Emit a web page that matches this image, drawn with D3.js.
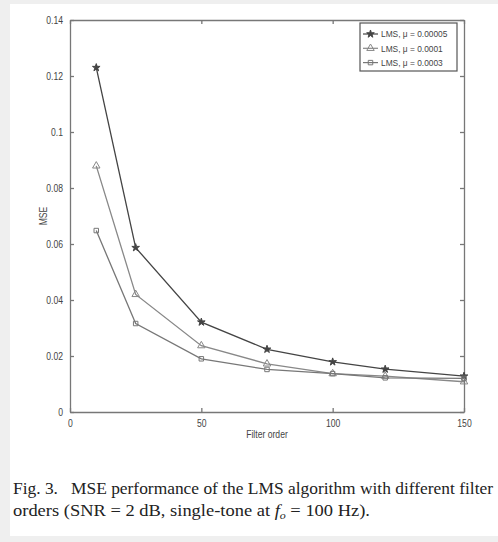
<!DOCTYPE html>
<html>
<head>
<meta charset="utf-8">
<script src="https://cdn.jsdelivr.net/npm/d3@7"></script>
<style>
  html, body { margin: 0; padding: 0; background: #efefef; }
  svg { display: block; }
</style>
</head>
<body>
<svg id="chart"></svg>
<script>
// Filter orders on the x axis
const filterOrders = [10, 25, 50, 75, 100, 120, 150];

// MSE values
const mseMu00005 = [0.123, 0.0587, 0.0321, 0.0224, 0.0179, 0.0153, 0.0128];
const mseMu0001  = [0.0879, 0.0420, 0.0237, 0.0172, 0.0137, 0.0128, 0.0108];
const mseMu0003  = [0.0648, 0.0316, 0.0190, 0.0152, 0.0137, 0.0122, 0.0120];

const seriesLabels = ['LMS, \u03bc = 0.00005', 'LMS, \u03bc = 0.0001', 'LMS, \u03bc = 0.0003'];

// Axis ticks
const xTicks = [0, 50, 100, 150];
const yTicks = [0, 0.02, 0.04, 0.06, 0.08, 0.1, 0.12, 0.14];

const W = 498, H = 542;
const margin = { top: 20, right: 34, bottom: 130, left: 70 };
const width = W - margin.left - margin.right;
const height = H - margin.top - margin.bottom;

const svg = d3.select('#chart')
  .attr('width', W)
  .attr('height', H);

// Paper background (page scan has a grey edge on top/left)
svg.append('rect')
  .attr('x', 10).attr('y', 4)
  .attr('width', W - 10).attr('height', H - 10)
  .attr('fill', '#fff');

const g = svg.append('g')
  .attr('transform', `translate(${margin.left},${margin.top})`);

const x = d3.scaleLinear().domain([0, 150]).range([0, width]);
const y = d3.scaleLinear().domain([0, 0.14]).range([height, 0]);

const axisColor = '#777';
const textColor = '#444';
const tickFont = '"Liberation Sans", Arial, sans-serif';

// the figure uses a narrow helvetica, squeeze the glyphs a bit
function narrow(sel, k = 0.86) {
  sel.each(function() {
    const len = this.getComputedTextLength();
    d3.select(this)
      .attr('textLength', len * k)
      .attr('lengthAdjust', 'spacingAndGlyphs');
  });
}

// Axes with inward ticks (matlab style box)
const styleAxis = sel => {
  sel.select('.domain').attr('stroke', axisColor).attr('stroke-width', 1.3);
  sel.selectAll('.tick line').attr('stroke', axisColor).attr('stroke-width', 1.3);
  sel.selectAll('.tick text')
    .attr('fill', textColor)
    .style('font-family', tickFont)
    .style('font-size', '10px')
    .call(narrow);
};

g.append('g')
  .attr('transform', `translate(0,${height})`)
  .call(d3.axisBottom(x).tickValues(xTicks).tickSizeInner(-4).tickSizeOuter(0).tickPadding(8))
  .call(styleAxis);

g.append('g')
  .call(d3.axisTop(x).tickValues(xTicks).tickSizeInner(-4).tickSizeOuter(0).tickFormat(''))
  .call(styleAxis);

g.append('g')
  .call(d3.axisLeft(y).tickValues(yTicks).tickSizeInner(-4).tickSizeOuter(0).tickPadding(7)
    .tickFormat(d3.format('~g')))
  .call(styleAxis);

g.append('g')
  .attr('transform', `translate(${width},0)`)
  .call(d3.axisRight(y).tickValues(yTicks).tickSizeInner(-4).tickSizeOuter(0).tickFormat(''))
  .call(styleAxis);

// Axis labels
g.append('text')
  .attr('x', width / 2)
  .attr('y', height + 26)
  .attr('text-anchor', 'middle')
  .attr('fill', textColor)
  .style('font-family', tickFont)
  .style('font-size', '10px')
  .text('Filter order')
  .call(narrow);

g.append('text')
  .attr('transform', 'rotate(-90)')
  .attr('x', -height / 2)
  .attr('y', -23)
  .attr('text-anchor', 'middle')
  .attr('fill', textColor)
  .style('font-family', tickFont)
  .style('font-size', '10px')
  .text('MSE')
  .call(narrow);

// Series
const series = [
  { label: seriesLabels[0], values: mseMu00005, symbol: d3.symbolStar, size: 18, color: '#444', fill: '#444' },
  { label: seriesLabels[1], values: mseMu0001, symbol: d3.symbolTriangle, size: 24, color: '#888', fill: 'none' },
  { label: seriesLabels[2], values: mseMu0003, symbol: d3.symbolSquare, size: 20, color: '#777', fill: 'none' }
];

const line = d3.line()
  .x(d => x(d[0]))
  .y(d => y(d[1]));

series.forEach(s => {
  const pts = filterOrders.map((f, i) => [f, s.values[i]]);
  g.append('path')
    .datum(pts)
    .attr('fill', 'none')
    .attr('stroke', s.color)
    .attr('stroke-width', 1.3)
    .attr('d', line);

  g.selectAll(null)
    .data(pts)
    .enter()
    .append('path')
    .attr('transform', d => `translate(${x(d[0])},${y(d[1])})`)
    .attr('d', d3.symbol().type(s.symbol).size(s.size))
    .attr('fill', s.fill)
    .attr('stroke', s.color)
    .attr('stroke-width', 1);
});

// Legend
const legend = g.append('g')
  .attr('transform', `translate(${width - 104},3)`);

legend.append('rect')
  .attr('width', 97)
  .attr('height', 48)
  .attr('fill', '#fff')
  .attr('stroke', '#555')
  .attr('stroke-width', 1.2);

const item = legend.selectAll('.legend')
  .data(series)
  .enter()
  .append('g')
  .attr('class', 'legend')
  .attr('transform', (d, i) => `translate(0,${11 + i * 14.3})`);

item.append('line')
  .attr('x1', 3).attr('x2', 18)
  .attr('stroke', d => d.color)
  .attr('stroke-width', 1.2);

item.append('path')
  .attr('transform', 'translate(10.5,0)')
  .attr('d', d => d3.symbol().type(d.symbol).size(d.size)())
  .attr('fill', d => d.fill)
  .attr('stroke', d => d.color);

item.append('text')
  .attr('x', 21)
  .attr('dy', '0.35em')
  .attr('fill', textColor)
  .style('font-family', tickFont)
  .style('font-size', '9.5px')
  .text(d => d.label)
  .call(narrow, 0.88);

// Caption
const capFont = '"Liberation Serif", "Times New Roman", serif';
svg.append('text')
  .attr('x', 13)
  .attr('y', 494)
  .attr('fill', '#222')
  .style('font-family', capFont)
  .style('font-size', '17px')
  .attr('textLength', 480)
  .attr('lengthAdjust', 'spacingAndGlyphs')
  .text('Fig. 3.\u2002 MSE performance of the LMS algorithm with different filter');

const cap2 = svg.append('text')
  .attr('x', 13)
  .attr('y', 516)
  .attr('fill', '#222')
  .style('font-family', capFont)
  .style('font-size', '17px')
  .attr('textLength', 357)
  .attr('lengthAdjust', 'spacingAndGlyphs');
cap2.append('tspan').text('orders (SNR = 2 dB, single-tone at ');
cap2.append('tspan').style('font-style', 'italic').text('f');
cap2.append('tspan').attr('dy', 3).style('font-size', '11px').style('font-style', 'italic').text('o');
cap2.append('tspan').attr('dy', -3).text(' = 100 Hz).');
</script>
</body>
</html>
